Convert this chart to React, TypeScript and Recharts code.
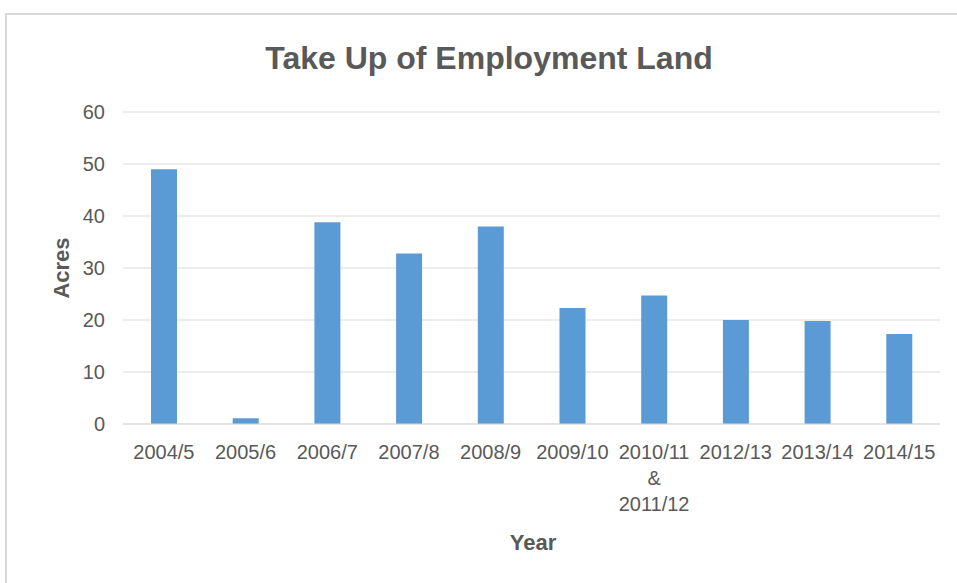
import { BarChart, Bar, XAxis, YAxis, CartesianGrid } from 'recharts'

const years = ['2004/5', '2005/6', '2006/7', '2007/8', '2008/9', '2009/10', '2010/11\n&\n2011/12', '2012/13', '2013/14', '2014/15']
const acres = [49, 1.1, 38.8, 32.8, 38, 22.3, 24.7, 20, 19.8, 17.3]
const yTicks = [0, 10, 20, 30, 40, 50, 60]

const font = "'Liberation Sans', Arial, sans-serif"
const textGrey = '#595959'
const barBlue = '#5B9BD5'

const data = years.map((year, i) => ({ year, acres: acres[i] }))

// multi-line category labels (the 2010/11 & 2011/12 one wraps)
const YearTick = (props: any) => {
  const { x, y, payload } = props
  const lines = String(payload.value).split('\n')
  return (
    <g transform={`translate(${x},${y})`}>
      <text textAnchor="middle" fill={textGrey} fontSize={20} fontFamily={font}>
        {lines.map((line, i) => (
          <tspan key={i} x={0} dy={i === 0 ? 35 : 26}>{line}</tspan>
        ))}
      </text>
    </g>
  )
}

export default function App() {
  return (
    <div style={{ position: 'fixed', left: 0, top: 0, width: 957, height: 583, overflow: 'hidden', background: '#fff', fontFamily: font }}>
      <div style={{ position: 'absolute', left: 5, top: 13, width: 1000, height: 700, border: '2px solid #d9d9d9', boxSizing: 'border-box' }} />
      <div style={{ position: 'absolute', left: 189, top: 42, width: 600, textAlign: 'center', fontSize: 32, lineHeight: '32px', fontWeight: 'bold', color: textGrey }}>
        Take Up of Employment Land
      </div>
      <div style={{ position: 'absolute', left: 12, top: 257, width: 100, height: 22, textAlign: 'center', fontSize: 22, lineHeight: '22px', fontWeight: 'bold', color: textGrey, transform: 'rotate(-90deg)' }}>
        Acres
      </div>
      <div style={{ position: 'absolute', left: 433, top: 532, width: 200, textAlign: 'center', fontSize: 22, lineHeight: '22px', fontWeight: 'bold', color: textGrey }}>
        Year
      </div>
      <div style={{ position: 'absolute', left: 0, top: 0 }}>
        <BarChart width={957} height={583} data={data} margin={{ top: 112, right: 17, bottom: 59, left: 0 }}>
          <CartesianGrid vertical={false} stroke="#d9d9d9" />
          <XAxis
            dataKey="year"
            height={100}
            interval={0}
            axisLine={{ stroke: '#d9d9d9' }}
            tickLine={false}
            tickSize={0}
            tickMargin={0}
            tick={<YearTick />}
          />
          <YAxis
            width={123}
            domain={[0, 60]}
            ticks={yTicks}
            axisLine={false}
            tickLine={false}
            tickSize={6}
            tickMargin={12}
            tick={{ fill: textGrey, fontSize: 20, fontFamily: font }}
          />
          <Bar dataKey="acres" fill={barBlue} barSize={26} isAnimationActive={false} />
        </BarChart>
      </div>
    </div>
  )
}
